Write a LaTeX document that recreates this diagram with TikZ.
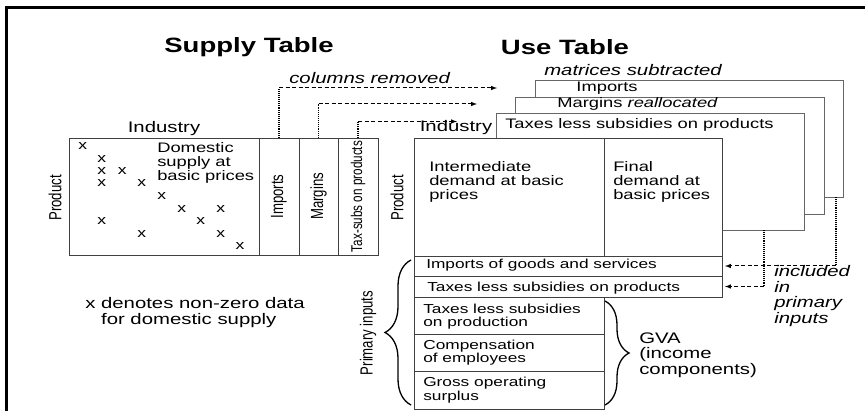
\documentclass[tikz,border=0pt]{standalone}
\usepackage{fontspec}
\setmainfont{Liberation Sans}
\usetikzlibrary{arrows,decorations.pathreplacing}

\tikzset{
  cell/.style={draw=black!75, line width=0.8pt, fill=white, anchor=north west, inner sep=0pt, outer sep=0pt},
  sheet/.style={cell, draw=black!60},
  lbl/.style={xscale=1.33, inner sep=0pt, align=left, font=\fontsize{13.8}{14.3}\selectfont},
  biglbl/.style={lbl, font=\fontsize{15.3}{15.4}\selectfont},
  smalllbl/.style={lbl, font=\fontsize{13}{13.3}\selectfont},
  note/.style={lbl, font=\fontsize{15.3}{15.6}\selectfont\itshape},
  title/.style={lbl, font=\fontsize{20.7}{22}\selectfont\bfseries},
  side/.style={lbl, rotate=90, font=\fontsize{13.2}{14}\selectfont},
  xmk/.style={lbl, font=\fontsize{13.2}{13.2}\selectfont},
  movedcol/.style={densely dotted, line width=1.1pt},
  movearrow/.style={dash pattern=on 4pt off 2.5pt, line width=1pt, -latex},
  pbrace/.style={decorate, decoration={brace, amplitude=#1}, line width=1.3pt},
}

\begin{document}
\begin{tikzpicture}[x=1pt, y=-1pt]
	\useasboundingbox (0,0) rectangle (865,411);
	%outer frame
	\draw[line width=3pt] (6,420) -- (6,7.5) -- (875,7.5);

	%titles
	\node[title] (suptitle) at (249,47) {Supply Table};
	\node[title] (usetitle) at (565,47) {Use Table};

	%supply table
	\node[cell, minimum width=190pt, minimum height=117pt] (dom) at (69,138) {};
	\node[cell, minimum width=40pt, minimum height=117pt] (imp) at (259,138) {};
	\node[cell, minimum width=39pt, minimum height=117pt] (mar) at (299,138) {};
	\node[cell, minimum width=40pt, minimum height=117pt] (tax) at (338,138) {};
	\node[biglbl, anchor=south] (supind) at ([yshift=2pt]dom.north) {Industry};
	\node[side] (supprod) at (55,198) {Product};
	\node[side] (implbl) at (imp) {Imports};
	\node[side] (marlbl) at (mar) {Margins};
	\node[side, font=\fontsize{11.7}{12}\selectfont] (taxlbl) at (tax) {Tax-subs on products};
	\node[lbl, anchor=west] (domlbl) at (157,163) {Domestic\\supply at\\basic prices};
	%non-zero entries
	\foreach \px/\py [count=\i] in {82.7/146, 101.7/159, 101.7/171, 122.3/171, 101.7/182.7,
		141.7/183.3, 161.7/196, 181.7/209.3, 220.7/209.3, 200.7/221, 101.7/221,
		141.7/234, 220.7/234, 240/246}{
		\node[xmk] (x\i) at (\px,\py) {x};
	}
	\node[biglbl, anchor=west] (legend) at (85,312.5) {x denotes non-zero data\\\hphantom{x}\ for domestic supply};

	%matrices behind the use table
	\node[sheet, minimum width=308pt, minimum height=117pt] (sh1) at (535,80) {};
	\node[sheet, minimum width=309pt, minimum height=117pt] (sh2) at (515,97) {};
	\node[sheet, minimum width=308pt, minimum height=117pt] (sh3) at (496,113) {};
	\node[lbl] (sh1lbl) at (607,88) {Imports};
	\node[lbl, anchor=west] (sh2lbl) at (557,104) {Margins \textit{reallocated}};
	\node[lbl, anchor=west] (sh3lbl) at (505,125) {Taxes less subsidies on products};
	\node[note, anchor=west] (subtr) at (544,70) {matrices subtracted};

	%use table
	\node[cell, minimum width=190pt, minimum height=118pt] (inter) at (414,138) {};
	\node[cell, minimum width=118pt, minimum height=118pt] (final) at (604,138) {};
	\node[cell, minimum width=308pt, minimum height=20pt] (impg) at (414,256) {};
	\node[cell, minimum width=308pt, minimum height=21pt] (taxp) at (414,276) {};
	\node[cell, minimum width=190pt, minimum height=37pt] (tlsp) at (414,297) {};
	\node[cell, minimum width=190pt, minimum height=37.5pt] (comp) at (414,334) {};
	\node[cell, minimum width=190pt, minimum height=37.5pt] (gos) at (414,371.5) {};
	\node[biglbl] (useind) at (456,128) {Industry};
	\node[side] (useprod) at (397,198) {Product};
	\node[lbl, anchor=west] (interlbl) at (429,182) {Intermediate\\demand at basic\\prices};
	\node[lbl, anchor=west] (finallbl) at (613,182) {Final\\demand at\\basic prices};
	\node[smalllbl, anchor=west] (impglbl) at (426,265.5) {Imports of goods and services};
	\node[smalllbl, anchor=west] (taxplbl) at (427,288) {Taxes less subsidies on products};
	\node[smalllbl, anchor=west] (tlsplbl) at (423,316.5) {Taxes less subsidies\\on production};
	\node[smalllbl, anchor=west] (complbl) at (423,352.5) {Compensation\\of employees};
	\node[smalllbl, anchor=west] (goslbl) at (423,390) {Gross operating\\surplus};

	%braces
	\draw[pbrace=26pt] ([shift={(-3,-4)}]gos.south west) -- ([shift={(-3,4)}]impg.north west);
	\node[side] (primlbl) at (368,333) {Primary inputs};
	\draw[pbrace=24pt] ([shift={(1,4)}]tlsp.north east) -- ([shift={(1,-4)}]gos.south east);
	\node[biglbl, anchor=west] (gvalbl) at (639,355) {GVA\\(income\\components)};

	%columns moved over to the use table
	\node[note, anchor=west] (colrem) at (289,78) {columns removed};
	\coordinate (e1) at (497,88);
	\coordinate (e2) at (477,104);
	\coordinate (e3) at (457,121.5);
	\draw[movedcol] (imp.north) -- (imp.north |- e1);
	\draw[movearrow] (imp.north |- e1) -- (e1);
	\draw[movedcol] (mar.north) -- (mar.north |- e2);
	\draw[movearrow] (mar.north |- e2) -- (e2);
	\draw[movedcol] (tax.north) -- (tax.north |- e3);
	\draw[movearrow] (tax.north |- e3) -- (e3);

	%matrices moved into primary inputs
	\coordinate (d3) at ([xshift=-40pt]sh3.south east);
	\coordinate (d1) at ([xshift=-7pt]sh1.south east);
	\draw[movedcol] (d3) -- (d3 |- taxp.east);
	\draw[movearrow] (d3 |- taxp.east) -- ([xshift=3pt]taxp.east);
	\draw[movedcol] (d1) -- (d1 |- impg.east);
	\draw[movearrow] (d1 |- impg.east) -- ([xshift=3pt]impg.east);
	\node[note, anchor=west] (incl) at (774,296) {included\\in\\primary\\inputs};
\end{tikzpicture}
\end{document}
